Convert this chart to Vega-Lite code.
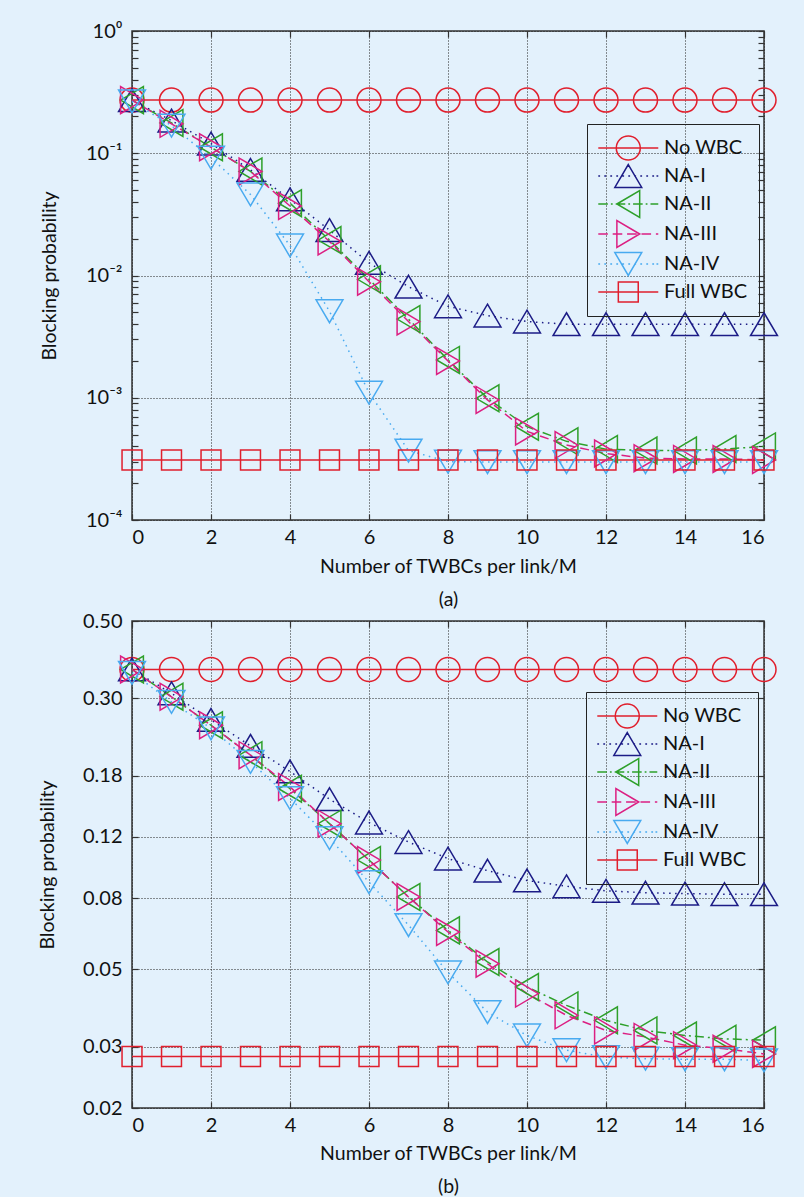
{
  "$schema": "https://vega.github.io/schema/vega-lite/v6.json",
  "background": "#e3f1fc",
  "padding": {"left": 36, "top": 20, "right": 40, "bottom": 0},
  "spacing": 0,
  "config": {
    "view": {"stroke": "#333", "strokeWidth": 1.5},
    "axis": {"labelFont": "Lato", "labelFontSize": 20, "labelColor": "#111", "titleFont": "Lato", "titleFontSize": 19.5, "titleFontWeight": "normal", "titleColor": "#111", "domain": false, "tickColor": "#333", "tickWidth": 1.2, "gridColor": "#222", "gridDash": [1, 2], "gridWidth": 1},
    "legend": {"labelFont": "Lato", "labelFontSize": 20, "labelColor": "#111", "strokeColor": "#222", "padding": 11, "symbolSize": 576, "symbolStrokeWidth": 1.5, "symbolOpacity": 1, "labelOffset": 40, "rowPadding": -5, "title": null}
  },
  "datasets": {
    "a": [
      {"M":0,"series":"No WBC","p":0.272},{"M":1,"series":"No WBC","p":0.272},{"M":2,"series":"No WBC","p":0.272},{"M":3,"series":"No WBC","p":0.272},{"M":4,"series":"No WBC","p":0.272},{"M":5,"series":"No WBC","p":0.272},{"M":6,"series":"No WBC","p":0.272},{"M":7,"series":"No WBC","p":0.272},{"M":8,"series":"No WBC","p":0.272},{"M":9,"series":"No WBC","p":0.272},{"M":10,"series":"No WBC","p":0.272},{"M":11,"series":"No WBC","p":0.272},{"M":12,"series":"No WBC","p":0.272},{"M":13,"series":"No WBC","p":0.272},{"M":14,"series":"No WBC","p":0.272},{"M":15,"series":"No WBC","p":0.272},{"M":16,"series":"No WBC","p":0.272},
      {"M":0,"series":"NA-I","p":0.272},{"M":1,"series":"NA-I","p":0.185},{"M":2,"series":"NA-I","p":0.12},{"M":3,"series":"NA-I","p":0.073},{"M":4,"series":"NA-I","p":0.042},{"M":5,"series":"NA-I","p":0.0235},{"M":6,"series":"NA-I","p":0.0127},{"M":7,"series":"NA-I","p":0.0081},{"M":8,"series":"NA-I","p":0.0056},{"M":9,"series":"NA-I","p":0.0047},{"M":10,"series":"NA-I","p":0.0042},{"M":11,"series":"NA-I","p":0.0040},{"M":12,"series":"NA-I","p":0.0040},{"M":13,"series":"NA-I","p":0.0040},{"M":14,"series":"NA-I","p":0.0040},{"M":15,"series":"NA-I","p":0.0040},{"M":16,"series":"NA-I","p":0.0040},
      {"M":0,"series":"NA-II","p":0.272},{"M":1,"series":"NA-II","p":0.177},{"M":2,"series":"NA-II","p":0.112},{"M":3,"series":"NA-II","p":0.071},{"M":4,"series":"NA-II","p":0.039},{"M":5,"series":"NA-II","p":0.0195},{"M":6,"series":"NA-II","p":0.0093},{"M":7,"series":"NA-II","p":0.0044},{"M":8,"series":"NA-II","p":0.00204},{"M":9,"series":"NA-II","p":0.00099},{"M":10,"series":"NA-II","p":0.00058},{"M":11,"series":"NA-II","p":0.00044},{"M":12,"series":"NA-II","p":0.00038},{"M":13,"series":"NA-II","p":0.00037},{"M":14,"series":"NA-II","p":0.00037},{"M":15,"series":"NA-II","p":0.00038},{"M":16,"series":"NA-II","p":0.0004},
      {"M":0,"series":"NA-III","p":0.272},{"M":1,"series":"NA-III","p":0.174},{"M":2,"series":"NA-III","p":0.112},{"M":3,"series":"NA-III","p":0.071},{"M":4,"series":"NA-III","p":0.037},{"M":5,"series":"NA-III","p":0.019},{"M":6,"series":"NA-III","p":0.0089},{"M":7,"series":"NA-III","p":0.0042},{"M":8,"series":"NA-III","p":0.002},{"M":9,"series":"NA-III","p":0.00096},{"M":10,"series":"NA-III","p":0.00053},{"M":11,"series":"NA-III","p":0.00041},{"M":12,"series":"NA-III","p":0.00035},{"M":13,"series":"NA-III","p":0.00032},{"M":14,"series":"NA-III","p":0.000316},{"M":15,"series":"NA-III","p":0.000316},{"M":16,"series":"NA-III","p":0.00031},
      {"M":0,"series":"NA-IV","p":0.265},{"M":1,"series":"NA-IV","p":0.168},{"M":2,"series":"NA-IV","p":0.092},{"M":3,"series":"NA-IV","p":0.046},{"M":4,"series":"NA-IV","p":0.0176},{"M":5,"series":"NA-IV","p":0.0051},{"M":6,"series":"NA-IV","p":0.0011},{"M":7,"series":"NA-IV","p":0.00037},{"M":8,"series":"NA-IV","p":0.0003},{"M":9,"series":"NA-IV","p":0.000298},{"M":10,"series":"NA-IV","p":0.000298},{"M":11,"series":"NA-IV","p":0.000298},{"M":12,"series":"NA-IV","p":0.000298},{"M":13,"series":"NA-IV","p":0.000298},{"M":14,"series":"NA-IV","p":0.000298},{"M":15,"series":"NA-IV","p":0.000298},{"M":16,"series":"NA-IV","p":0.000298},
      {"M":0,"series":"Full WBC","p":0.00031},{"M":1,"series":"Full WBC","p":0.00031},{"M":2,"series":"Full WBC","p":0.00031},{"M":3,"series":"Full WBC","p":0.00031},{"M":4,"series":"Full WBC","p":0.00031},{"M":5,"series":"Full WBC","p":0.00031},{"M":6,"series":"Full WBC","p":0.00031},{"M":7,"series":"Full WBC","p":0.00031},{"M":8,"series":"Full WBC","p":0.00031},{"M":9,"series":"Full WBC","p":0.00031},{"M":10,"series":"Full WBC","p":0.00031},{"M":11,"series":"Full WBC","p":0.00031},{"M":12,"series":"Full WBC","p":0.00031},{"M":13,"series":"Full WBC","p":0.00031},{"M":14,"series":"Full WBC","p":0.00031},{"M":15,"series":"Full WBC","p":0.00031},{"M":16,"series":"Full WBC","p":0.00031}
    ],
    "b": [
      {"M":0,"series":"No WBC","p":0.363},{"M":1,"series":"No WBC","p":0.363},{"M":2,"series":"No WBC","p":0.363},{"M":3,"series":"No WBC","p":0.363},{"M":4,"series":"No WBC","p":0.363},{"M":5,"series":"No WBC","p":0.363},{"M":6,"series":"No WBC","p":0.363},{"M":7,"series":"No WBC","p":0.363},{"M":8,"series":"No WBC","p":0.363},{"M":9,"series":"No WBC","p":0.363},{"M":10,"series":"No WBC","p":0.363},{"M":11,"series":"No WBC","p":0.363},{"M":12,"series":"No WBC","p":0.363},{"M":13,"series":"No WBC","p":0.363},{"M":14,"series":"No WBC","p":0.363},{"M":15,"series":"No WBC","p":0.363},{"M":16,"series":"No WBC","p":0.363},
      {"M":0,"series":"NA-I","p":0.363},{"M":1,"series":"NA-I","p":0.31},{"M":2,"series":"NA-I","p":0.26},{"M":3,"series":"NA-I","p":0.219},{"M":4,"series":"NA-I","p":0.185},{"M":5,"series":"NA-I","p":0.154},{"M":6,"series":"NA-I","p":0.132},{"M":7,"series":"NA-I","p":0.116},{"M":8,"series":"NA-I","p":0.104},{"M":9,"series":"NA-I","p":0.096},{"M":10,"series":"NA-I","p":0.09},{"M":11,"series":"NA-I","p":0.0866},{"M":12,"series":"NA-I","p":0.084},{"M":13,"series":"NA-I","p":0.083},{"M":14,"series":"NA-I","p":0.0825},{"M":15,"series":"NA-I","p":0.0822},{"M":16,"series":"NA-I","p":0.0822},
      {"M":0,"series":"NA-II","p":0.363},{"M":1,"series":"NA-II","p":0.303},{"M":2,"series":"NA-II","p":0.251},{"M":3,"series":"NA-II","p":0.206},{"M":4,"series":"NA-II","p":0.165},{"M":5,"series":"NA-II","p":0.131},{"M":6,"series":"NA-II","p":0.103},{"M":7,"series":"NA-II","p":0.0807},{"M":8,"series":"NA-II","p":0.0647},{"M":9,"series":"NA-II","p":0.0525},{"M":10,"series":"NA-II","p":0.0445},{"M":11,"series":"NA-II","p":0.0394},{"M":12,"series":"NA-II","p":0.0357},{"M":13,"series":"NA-II","p":0.0334},{"M":14,"series":"NA-II","p":0.0323},{"M":15,"series":"NA-II","p":0.0316},{"M":16,"series":"NA-II","p":0.0313},
      {"M":0,"series":"NA-III","p":0.363},{"M":1,"series":"NA-III","p":0.303},{"M":2,"series":"NA-III","p":0.251},{"M":3,"series":"NA-III","p":0.206},{"M":4,"series":"NA-III","p":0.167},{"M":5,"series":"NA-III","p":0.131},{"M":6,"series":"NA-III","p":0.103},{"M":7,"series":"NA-III","p":0.0807},{"M":8,"series":"NA-III","p":0.064},{"M":9,"series":"NA-III","p":0.0519},{"M":10,"series":"NA-III","p":0.0426},{"M":11,"series":"NA-III","p":0.0369},{"M":12,"series":"NA-III","p":0.0334},{"M":13,"series":"NA-III","p":0.032},{"M":14,"series":"NA-III","p":0.0303},{"M":15,"series":"NA-III","p":0.0296},{"M":16,"series":"NA-III","p":0.0286},
      {"M":0,"series":"NA-IV","p":0.355},{"M":1,"series":"NA-IV","p":0.293},{"M":2,"series":"NA-IV","p":0.246},{"M":3,"series":"NA-IV","p":0.197},{"M":4,"series":"NA-IV","p":0.155},{"M":5,"series":"NA-IV","p":0.119},{"M":6,"series":"NA-IV","p":0.089},{"M":7,"series":"NA-IV","p":0.067},{"M":8,"series":"NA-IV","p":0.049},{"M":9,"series":"NA-IV","p":0.0377},{"M":10,"series":"NA-IV","p":0.0323},{"M":11,"series":"NA-IV","p":0.0293},{"M":12,"series":"NA-IV","p":0.028},{"M":13,"series":"NA-IV","p":0.0277},{"M":14,"series":"NA-IV","p":0.0276},{"M":15,"series":"NA-IV","p":0.0276},{"M":16,"series":"NA-IV","p":0.0274},
      {"M":0,"series":"Full WBC","p":0.0281},{"M":1,"series":"Full WBC","p":0.0281},{"M":2,"series":"Full WBC","p":0.0281},{"M":3,"series":"Full WBC","p":0.0281},{"M":4,"series":"Full WBC","p":0.0281},{"M":5,"series":"Full WBC","p":0.0281},{"M":6,"series":"Full WBC","p":0.0281},{"M":7,"series":"Full WBC","p":0.0281},{"M":8,"series":"Full WBC","p":0.0281},{"M":9,"series":"Full WBC","p":0.0281},{"M":10,"series":"Full WBC","p":0.0281},{"M":11,"series":"Full WBC","p":0.0281},{"M":12,"series":"Full WBC","p":0.0281},{"M":13,"series":"Full WBC","p":0.0281},{"M":14,"series":"Full WBC","p":0.0281},{"M":15,"series":"Full WBC","p":0.0281},{"M":16,"series":"Full WBC","p":0.0281}
    ]
  },
  "vconcat": [
    {
      "width": 632,
      "height": 489,
      "data": {"name": "a"},
      "layer": [
        {
          "mark": {"type": "line", "strokeWidth": 1.5, "clip": true},
          "encoding": {
            "x": {"field": "M", "type": "quantitative", "scale": {"domain": [0, 16], "nice": false},
              "axis": {"orient": "bottom", "values": [0,2,4,6,8,10,12,14,16], "format": "d", "grid": true, "tickSize": -6, "labelPadding": 13, "title": ["Number of TWBCs per link/M", "(a)"], "titleLineHeight": 33, "titlePadding": 10}},
            "y": {"field": "p", "type": "quantitative", "scale": {"type": "log", "domain": [0.0001, 1], "nice": false},
              "axis": {"orient": "left", "title": "Blocking probability", "titlePadding": 26, "tickSize": -6, "labelPadding": 16,
                "values": [0.0001,0.0002,0.0003,0.0004,0.0005,0.0006,0.0007,0.0008,0.0009,0.001,0.002,0.003,0.004,0.005,0.006,0.007,0.008,0.009,0.01,0.02,0.03,0.04,0.05,0.06,0.07,0.08,0.09,0.1,0.2,0.3,0.4,0.5,0.6,0.7,0.8,0.9,1],
                "labelExpr": "abs(log(datum.value)/LN10 - round(log(datum.value)/LN10)) < 0.001 ? '10' + ['⁰','⁻¹','⁻²','⁻³','⁻⁴'][-round(log(datum.value)/LN10)] : ''",
                "grid": true,
                "gridOpacity": {"condition": {"test": "abs(log(datum.value)/LN10 - round(log(datum.value)/LN10)) < 0.001", "value": 1}, "value": 0}}},
            "color": {"field": "series", "type": "nominal", "legend": null,
              "scale": {"domain": ["No WBC","NA-I","NA-II","NA-III","NA-IV","Full WBC"], "range": ["#e01f2d","#1c1c86","#2ea02a","#dc1f82","#48aaf0","#e01f2d"]}},
            "strokeDash": {"field": "series", "type": "nominal", "legend": null,
              "scale": {"domain": ["No WBC","NA-I","NA-II","NA-III","NA-IV","Full WBC"], "range": [[1,0],[1.5,4.5],[9,4,2,4],[9,5],[1.5,4.5],[1,0]]}}
          }
        },
        {
          "mark": {"type": "point", "filled": false, "size": 576, "strokeWidth": 1.5, "opacity": 1},
          "encoding": {
            "x": {"field": "M", "type": "quantitative", "axis": {"orient": "top", "values": [0,2,4,6,8,10,12,14,16], "labels": false, "tickSize": -6, "grid": false, "title": null}},
            "y": {"field": "p", "type": "quantitative",
              "axis": {"orient": "right", "labels": false, "tickSize": -6, "grid": false, "title": null,
                "values": [0.0001,0.0002,0.0003,0.0004,0.0005,0.0006,0.0007,0.0008,0.0009,0.001,0.002,0.003,0.004,0.005,0.006,0.007,0.008,0.009,0.01,0.02,0.03,0.04,0.05,0.06,0.07,0.08,0.09,0.1,0.2,0.3,0.4,0.5,0.6,0.7,0.8,0.9,1]}},
            "color": {"field": "series", "type": "nominal", "legend": null},
            "shape": {"field": "series", "type": "nominal", "legend": null,
              "scale": {"domain": ["No WBC","NA-I","NA-II","NA-III","NA-IV","Full WBC"],
                "range": ["M-1,0A1,1,0,1,0,1,0A1,1,0,1,0,-1,0", "M0,-0.95L1.12,0.95L-1.12,0.95Z", "M-0.95,0L0.95,-1.12L0.95,1.12Z", "M0.95,0L-0.95,-1.12L-0.95,1.12Z", "M-1.12,-0.95L1.12,-0.95L0,0.95Z", "M-0.83,-0.83H0.83V0.83H-0.83Z"]}}
          }
        },
        {
          "transform": [{"filter": "false"}],
          "mark": {"type": "point", "filled": false, "strokeWidth": 1.5, "opacity": 1},
          "encoding": {
            "x": {"field": "M", "type": "quantitative", "axis": null},
            "y": {"field": "p", "type": "quantitative", "axis": null},
            "stroke": {"field": "series", "type": "nominal",
              "scale": {"domain": ["No WBC","NA-I","NA-II","NA-III","NA-IV","Full WBC"], "range": ["#e01f2d","#1c1c86","#2ea02a","#dc1f82","#48aaf0","#e01f2d"]},
              "legend": {"orient": "none", "legendX": 455, "legendY": 93}},
            "shape": {"field": "series", "type": "nominal",
              "scale": {"domain": ["No WBC","NA-I","NA-II","NA-III","NA-IV","Full WBC"],
                "range": [
                  "M-1.06,0H3.94M0.44,0A1,1,0,1,0,2.44,0A1,1,0,1,0,0.44,0",
                  "M-1.06,0h0.15M-0.56,0h0.15M-0.06,0h0.15M0.44,0h0.15M0.94,0h0.15M1.44,0h0.15M1.94,0h0.15M2.44,0h0.15M2.94,0h0.15M3.44,0h0.15M3.79,0h0.15M1.44,-0.95L2.56,0.95L0.32,0.95Z",
                  "M-1.06,0h0.8M-0.01,0h0.15M0.39,0h0.8M1.44,0h0.15M1.84,0h0.8M2.89,0h0.15M3.29,0h0.65M0.49,0L2.39,-1.12L2.39,1.12Z",
                  "M-1.06,0h0.8M0.14,0h0.8M1.34,0h0.8M2.54,0h0.8M3.74,0h0.2M2.39,0L0.49,-1.12L0.49,1.12Z",
                  "M-1.06,0h0.15M-0.56,0h0.15M-0.06,0h0.15M0.44,0h0.15M0.94,0h0.15M1.44,0h0.15M1.94,0h0.15M2.44,0h0.15M2.94,0h0.15M3.44,0h0.15M3.79,0h0.15M0.32,-0.95L2.56,-0.95L1.44,0.95Z",
                  "M-1.06,0H3.94M0.61,-0.83H2.27V0.83H0.61Z"]},
              "legend": {"orient": "none", "legendX": 455, "legendY": 93}}
          }
        }
      ],
      "resolve": {"scale": {"shape": "independent", "stroke": "independent"}, "legend": {"shape": "independent", "stroke": "independent"}, "axis": {"x": "independent", "y": "independent"}}
    },
    {
      "width": 632,
      "height": 487,
      "data": {"name": "b"},
      "layer": [
        {
          "mark": {"type": "line", "strokeWidth": 1.5, "clip": true},
          "encoding": {
            "x": {"field": "M", "type": "quantitative", "scale": {"domain": [0, 16], "nice": false},
              "axis": {"orient": "bottom", "values": [0,2,4,6,8,10,12,14,16], "format": "d", "grid": true, "tickSize": -6, "labelPadding": 13, "title": ["Number of TWBCs per link/M", "(b)"], "titleLineHeight": 33, "titlePadding": 9}},
            "y": {"field": "p", "type": "quantitative", "scale": {"type": "log", "domain": [0.02, 0.5], "nice": false},
              "axis": {"orient": "left", "title": "Blocking probability", "titlePadding": 25, "tickSize": -6, "labelPadding": 16, "format": ".2f",
                "values": [0.02,0.03,0.05,0.08,0.12,0.18,0.3,0.5], "grid": true}},
            "color": {"field": "series", "type": "nominal", "legend": null,
              "scale": {"domain": ["No WBC","NA-I","NA-II","NA-III","NA-IV","Full WBC"], "range": ["#e01f2d","#1c1c86","#2ea02a","#dc1f82","#48aaf0","#e01f2d"]}},
            "strokeDash": {"field": "series", "type": "nominal", "legend": null,
              "scale": {"domain": ["No WBC","NA-I","NA-II","NA-III","NA-IV","Full WBC"], "range": [[1,0],[1.5,4.5],[9,4,2,4],[9,5],[1.5,4.5],[1,0]]}}
          }
        },
        {
          "mark": {"type": "point", "filled": false, "size": 576, "strokeWidth": 1.5, "opacity": 1},
          "encoding": {
            "x": {"field": "M", "type": "quantitative", "axis": {"orient": "top", "values": [0,2,4,6,8,10,12,14,16], "labels": false, "tickSize": -6, "grid": false, "title": null}},
            "y": {"field": "p", "type": "quantitative",
              "axis": {"orient": "right", "labels": false, "tickSize": -6, "grid": false, "title": null, "values": [0.02,0.03,0.05,0.08,0.12,0.18,0.3,0.5]}},
            "color": {"field": "series", "type": "nominal", "legend": null},
            "shape": {"field": "series", "type": "nominal", "legend": null,
              "scale": {"domain": ["No WBC","NA-I","NA-II","NA-III","NA-IV","Full WBC"],
                "range": ["M-1,0A1,1,0,1,0,1,0A1,1,0,1,0,-1,0", "M0,-0.95L1.12,0.95L-1.12,0.95Z", "M-0.95,0L0.95,-1.12L0.95,1.12Z", "M0.95,0L-0.95,-1.12L-0.95,1.12Z", "M-1.12,-0.95L1.12,-0.95L0,0.95Z", "M-0.83,-0.83H0.83V0.83H-0.83Z"]}}
          }
        },
        {
          "transform": [{"filter": "false"}],
          "mark": {"type": "point", "filled": false, "strokeWidth": 1.5, "opacity": 1},
          "encoding": {
            "x": {"field": "M", "type": "quantitative", "axis": null},
            "y": {"field": "p", "type": "quantitative", "axis": null},
            "stroke": {"field": "series", "type": "nominal",
              "scale": {"domain": ["No WBC","NA-I","NA-II","NA-III","NA-IV","Full WBC"], "range": ["#e01f2d","#1c1c86","#2ea02a","#dc1f82","#48aaf0","#e01f2d"]},
              "legend": {"orient": "none", "legendX": 454, "legendY": 71}},
            "shape": {"field": "series", "type": "nominal",
              "scale": {"domain": ["No WBC","NA-I","NA-II","NA-III","NA-IV","Full WBC"],
                "range": [
                  "M-1.06,0H3.94M0.44,0A1,1,0,1,0,2.44,0A1,1,0,1,0,0.44,0",
                  "M-1.06,0h0.15M-0.56,0h0.15M-0.06,0h0.15M0.44,0h0.15M0.94,0h0.15M1.44,0h0.15M1.94,0h0.15M2.44,0h0.15M2.94,0h0.15M3.44,0h0.15M3.79,0h0.15M1.44,-0.95L2.56,0.95L0.32,0.95Z",
                  "M-1.06,0h0.8M-0.01,0h0.15M0.39,0h0.8M1.44,0h0.15M1.84,0h0.8M2.89,0h0.15M3.29,0h0.65M0.49,0L2.39,-1.12L2.39,1.12Z",
                  "M-1.06,0h0.8M0.14,0h0.8M1.34,0h0.8M2.54,0h0.8M3.74,0h0.2M2.39,0L0.49,-1.12L0.49,1.12Z",
                  "M-1.06,0h0.15M-0.56,0h0.15M-0.06,0h0.15M0.44,0h0.15M0.94,0h0.15M1.44,0h0.15M1.94,0h0.15M2.44,0h0.15M2.94,0h0.15M3.44,0h0.15M3.79,0h0.15M0.32,-0.95L2.56,-0.95L1.44,0.95Z",
                  "M-1.06,0H3.94M0.61,-0.83H2.27V0.83H0.61Z"]},
              "legend": {"orient": "none", "legendX": 454, "legendY": 71}}
          }
        }
      ],
      "resolve": {"scale": {"shape": "independent", "stroke": "independent"}, "legend": {"shape": "independent", "stroke": "independent"}, "axis": {"x": "independent", "y": "independent"}}
    }
  ]
}
